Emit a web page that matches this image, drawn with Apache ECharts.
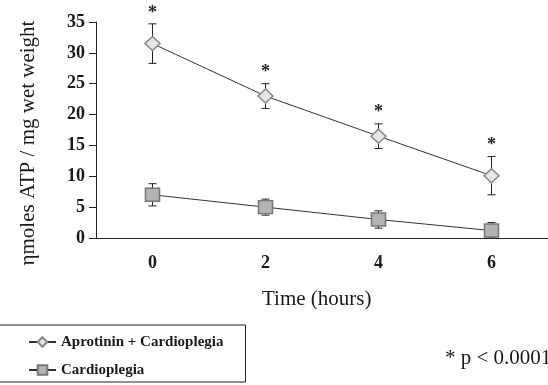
<!DOCTYPE html>
<html>
<head>
<meta charset="utf-8">
<script src="https://cdn.jsdelivr.net/npm/echarts@6/dist/echarts.min.js"></script>
<style>
  html, body { margin: 0; padding: 0; background: #fff; }
  #chart { width: 548px; height: 385px; }
</style>
</head>
<body>
<div id="chart"></div>
<script>
const hours = ['0', '2', '4', '6']
const aprotinin = [31.5, 23.0, 16.5, 10.1]
const aprotininErr = [3.2, 2.0, 2.0, 3.1]
const cardio = [7.0, 5.0, 3.0, 1.2]
const cardioErr = [1.8, 1.3, 1.4, 1.3]
const yTicks = [0, 5, 10, 15, 20, 25, 30, 35]

const serif = '"Liberation Serif", "Times New Roman", serif'
const chart = echarts.init(document.getElementById('chart'))

// error bars (and the * marks) drawn through the axes
const errorBars = (means, errs, star) => ({
  type: 'custom',
  silent: true,
  z: 1,
  data: means.map((m, i) => [i, m - errs[i], m + errs[i]]),
  renderItem: (params, api) => {
    const lo = api.coord([api.value(0), Math.max(0, api.value(1))])
    const hi = api.coord([api.value(0), api.value(2)])
    const cap = 4
    const st = { stroke: '#222', lineWidth: 1 }
    const children = [
      { type: 'line', shape: { x1: hi[0], y1: hi[1], x2: lo[0], y2: lo[1] }, style: st },
      { type: 'line', shape: { x1: hi[0] - cap, y1: hi[1], x2: hi[0] + cap, y2: hi[1] }, style: st },
      { type: 'line', shape: { x1: lo[0] - cap, y1: lo[1], x2: lo[0] + cap, y2: lo[1] }, style: st }
    ]
    if (star) {
      children.push({
        type: 'text',
        style: { text: '*', x: hi[0], y: hi[1] - 11, align: 'center', verticalAlign: 'middle',
          font: 'bold 18px ' + serif, fill: '#222' }
      })
    }
    return { type: 'group', children }
  }
})

const option = {
  animation: false,
  grid: { left: 96, right: 0, top: 22, bottom: 147 },
  xAxis: {
    type: 'category',
    data: hours,
    boundaryGap: true,
    axisLine: { lineStyle: { color: '#222', width: 1 } },
    axisTick: { length: 4, lineStyle: { color: '#222' } },
    axisLabel: { margin: 16, color: '#1a1a1a', fontFamily: serif, fontWeight: 'bold', fontSize: 18 },
    splitLine: { show: false }
  },
  yAxis: {
    type: 'value',
    min: 0,
    max: 35,
    interval: 5,
    axisLine: { show: true, lineStyle: { color: '#222', width: 1 } },
    axisTick: { show: true, length: 7, lineStyle: { color: '#222' } },
    axisLabel: {
      margin: 11, color: '#1a1a1a', fontFamily: serif, fontWeight: 'bold', fontSize: 18,
      formatter: v => yTicks.includes(v) ? String(v) : ''
    },
    splitLine: { show: false }
  },
  legend: {
    orient: 'vertical',
    left: -2,
    top: 325,
    height: 60,
    itemWidth: 27,
    itemHeight: 12,
    itemGap: 12,
    padding: [9, 22, 4, 30],
    borderColor: '#222',
    borderWidth: 1,
    textStyle: { color: '#1a1a1a', fontFamily: serif, fontWeight: 'bold', fontSize: 15, lineHeight: 16 },
    data: ['Aprotinin + Cardioplegia', 'Cardioplegia']
  },
  graphic: [
    { type: 'text', x: 28, y: 143, rotation: Math.PI / 2,
      style: { text: 'ηmoles ATP / mg wet weight', font: '21px ' + serif, fill: '#1a1a1a',
        align: 'center', verticalAlign: 'middle' } },
    { type: 'text', left: 262, top: 289,
      style: { text: 'Time (hours)', font: '21px ' + serif, fill: '#1a1a1a' } },
    { type: 'text', left: 445, top: 348,
      style: { text: '* p < 0.0001', font: '21px ' + serif, fill: '#1a1a1a' } }
  ],
  series: [
    errorBars(aprotinin, aprotininErr, true),
    errorBars(cardio, cardioErr, false),
    {
      name: 'Aprotinin + Cardioplegia',
      type: 'line',
      data: aprotinin,
      symbol: 'diamond',
      symbolSize: [15, 14],
      z: 3,
      lineStyle: { color: '#333', width: 1 },
      itemStyle: { color: '#e6e6e6', borderColor: '#888', borderWidth: 1.5 }
    },
    {
      name: 'Cardioplegia',
      type: 'line',
      data: cardio,
      symbol: 'rect',
      symbolSize: [14, 13],
      z: 3,
      lineStyle: { color: '#333', width: 1 },
      itemStyle: { color: '#b3b3b3', borderColor: '#777', borderWidth: 1.5 }
    }
  ]
}

chart.setOption(option)
</script>
</body>
</html>
